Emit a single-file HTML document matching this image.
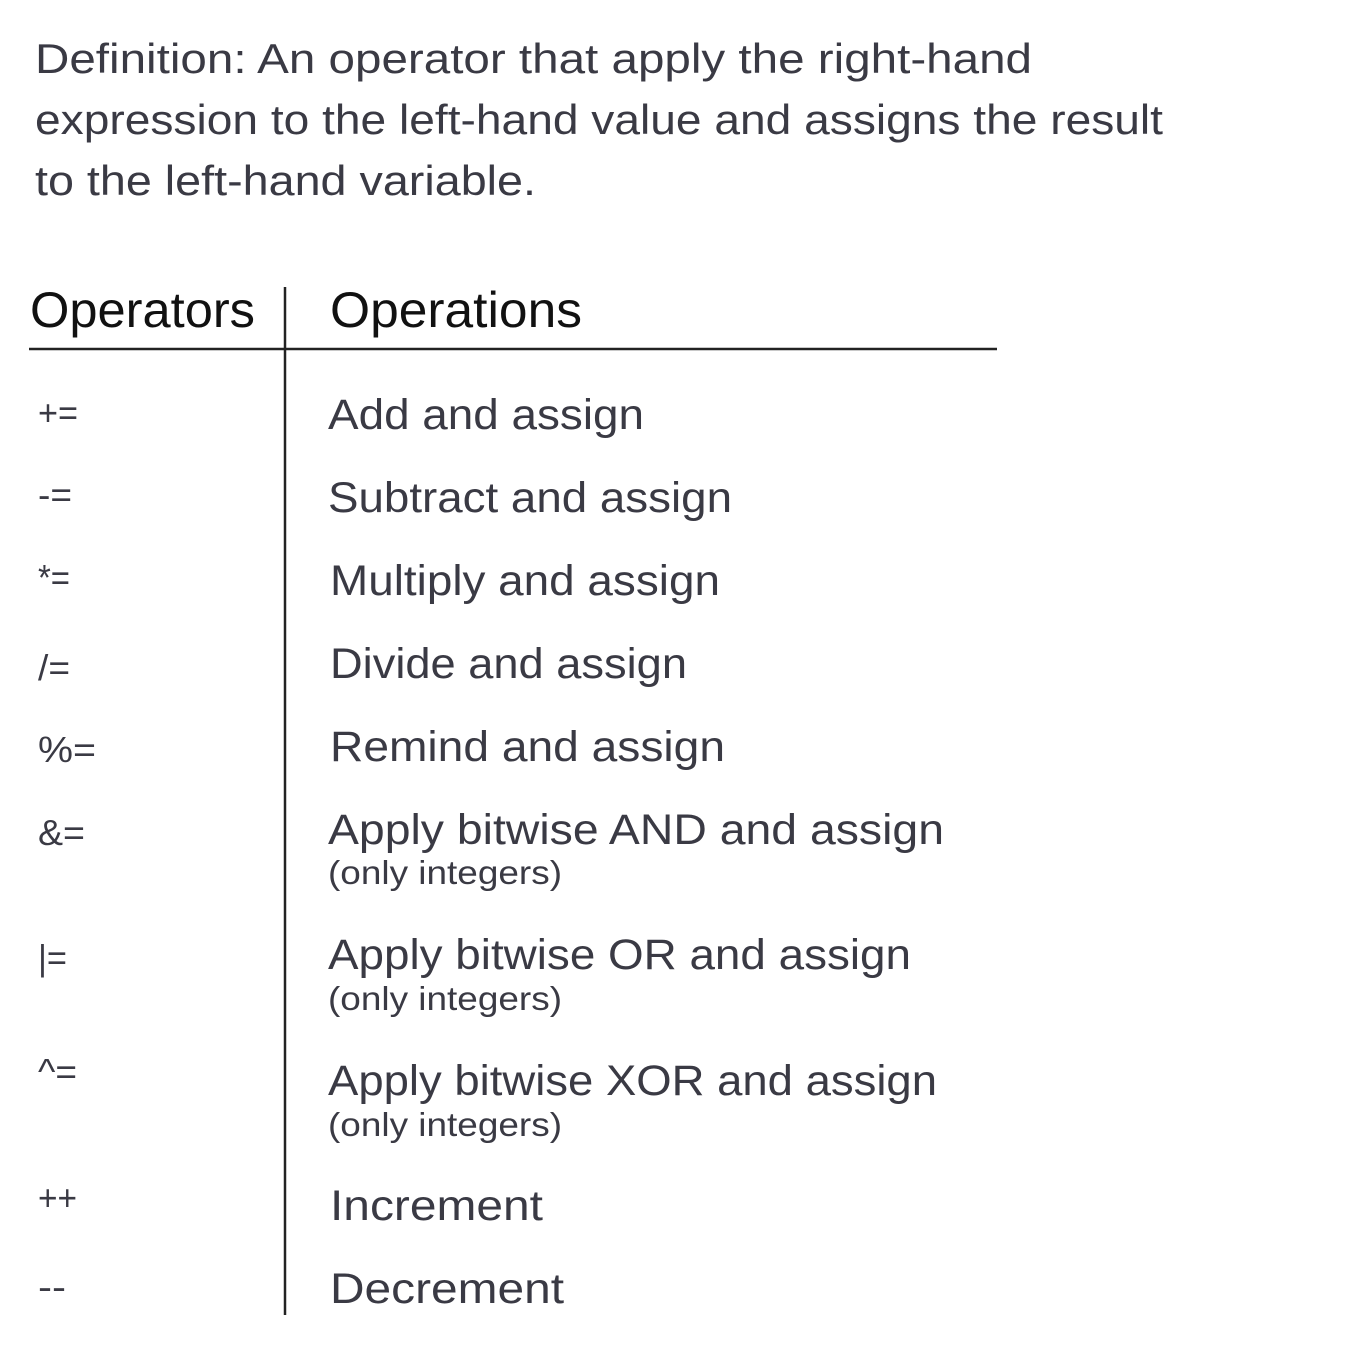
<!DOCTYPE html>
<html><head><meta charset="utf-8"><style>
html,body{margin:0;padding:0;background:#fff;}
svg{display:block}
text{font-family:"Liberation Sans",sans-serif;fill:#3a3a44;}
.op{font-size:36px;}
.r{font-size:43px;}
.s{font-size:33px;}
</style></head><body>
<svg width="1360" height="1360" viewBox="0 0 1360 1360" xmlns="http://www.w3.org/2000/svg">
<text x="35" y="73" font-size="42" textLength="997" lengthAdjust="spacingAndGlyphs">Definition: An operator that apply the right-hand</text>
<text x="35" y="134" font-size="42" textLength="1128" lengthAdjust="spacingAndGlyphs">expression to the left-hand value and assigns the result</text>
<text x="35" y="195" font-size="42" textLength="501" lengthAdjust="spacingAndGlyphs">to the left-hand variable.</text>

<text x="30" y="327" font-size="50" style="fill:#111" textLength="225" lengthAdjust="spacingAndGlyphs">Operators</text>
<text x="330" y="327" font-size="50" style="fill:#111" textLength="252" lengthAdjust="spacingAndGlyphs">Operations</text>
<line x1="29" y1="349" x2="997" y2="349" stroke="#222" stroke-width="2.5"/>
<line x1="285" y1="287" x2="285" y2="1315" stroke="#222" stroke-width="2.5"/>

<text class="op" x="38" y="425" textLength="40" lengthAdjust="spacingAndGlyphs">+=</text>
<text class="op" x="38" y="507" textLength="34" lengthAdjust="spacingAndGlyphs">-=</text>
<text class="op" x="38" y="590" textLength="32" lengthAdjust="spacingAndGlyphs">*=</text>
<text class="op" x="38" y="680" textLength="32" lengthAdjust="spacingAndGlyphs">/=</text>
<text class="op" x="38" y="762" textLength="58" lengthAdjust="spacingAndGlyphs">%=</text>
<text class="op" x="38" y="845" textLength="47" lengthAdjust="spacingAndGlyphs">&amp;=</text>
<text class="op" x="38" y="970" textLength="29" lengthAdjust="spacingAndGlyphs">|=</text>
<text class="op" x="38" y="1084" textLength="39" lengthAdjust="spacingAndGlyphs">^=</text>
<text class="op" x="38" y="1210" textLength="39" lengthAdjust="spacingAndGlyphs">++</text>
<text class="op" x="38" y="1299" textLength="28" lengthAdjust="spacingAndGlyphs">--</text>

<text class="r" x="328" y="429" textLength="316" lengthAdjust="spacingAndGlyphs">Add and assign</text>
<text class="r" x="328" y="512" textLength="404" lengthAdjust="spacingAndGlyphs">Subtract and assign</text>
<text class="r" x="330" y="595" textLength="390" lengthAdjust="spacingAndGlyphs">Multiply and assign</text>
<text class="r" x="330" y="678" textLength="357" lengthAdjust="spacingAndGlyphs">Divide and assign</text>
<text class="r" x="330" y="761" textLength="395" lengthAdjust="spacingAndGlyphs">Remind and assign</text>
<text class="r" x="328" y="844" textLength="616" lengthAdjust="spacingAndGlyphs">Apply bitwise AND and assign</text>
<text class="s" x="328" y="884" textLength="234" lengthAdjust="spacingAndGlyphs">(only integers)</text>
<text class="r" x="328" y="969" textLength="583" lengthAdjust="spacingAndGlyphs">Apply bitwise OR and assign</text>
<text class="s" x="328" y="1010" textLength="234" lengthAdjust="spacingAndGlyphs">(only integers)</text>
<text class="r" x="328" y="1095" textLength="609" lengthAdjust="spacingAndGlyphs">Apply bitwise XOR and assign</text>
<text class="s" x="328" y="1136" textLength="234" lengthAdjust="spacingAndGlyphs">(only integers)</text>
<text class="r" x="330" y="1220" textLength="213" lengthAdjust="spacingAndGlyphs">Increment</text>
<text class="r" x="330" y="1303" textLength="234" lengthAdjust="spacingAndGlyphs">Decrement</text>
</svg>
</body></html>
